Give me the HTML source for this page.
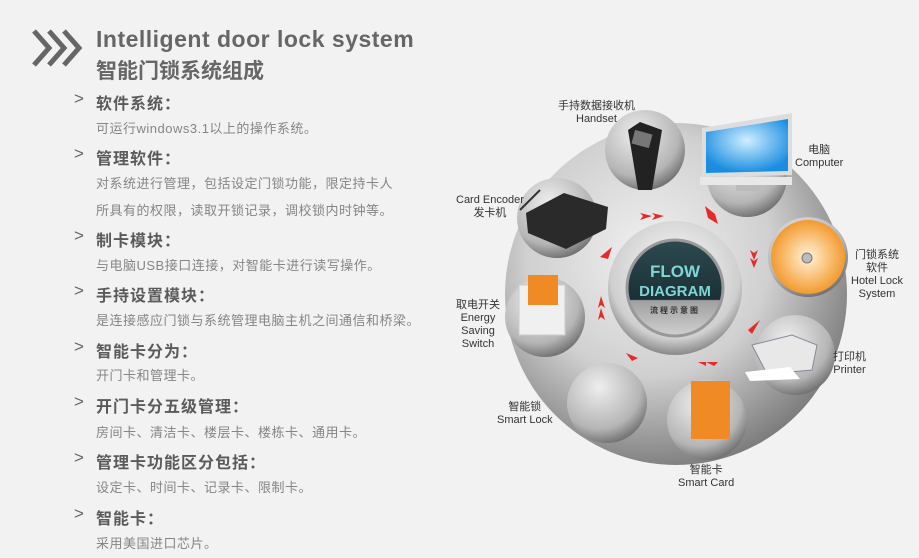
<!DOCTYPE html>
<html><head><meta charset="utf-8"><style>
body{margin:0;width:919px;height:558px;background:#f2f2f2;overflow:hidden;position:relative;font-family:"Liberation Sans","Noto Sans CJK SC",sans-serif}
.t{position:absolute;white-space:nowrap}
.h{font-size:16px;font-weight:bold;color:#5a5a5a;left:96px;letter-spacing:1px}
.d{font-size:13px;color:#858585;left:96px;letter-spacing:0.5px}
.c{position:absolute;left:74px;font-size:17px;color:#666;}
.l{position:absolute;font-size:11px;color:#333;text-align:center;line-height:13px;white-space:nowrap}
</style></head><body>
<svg style="position:absolute;left:0;top:0" width="919" height="558">
<defs>
<radialGradient id="bg" cx="42%" cy="38%" r="65%"><stop offset="0" stop-color="#f0f0f0"/><stop offset="0.55" stop-color="#d0d0d0"/><stop offset="1" stop-color="#7a7a7a"/></radialGradient>
<radialGradient id="sk" cx="40%" cy="30%" r="75%"><stop offset="0" stop-color="#eeeeee"/><stop offset="0.7" stop-color="#b5b5b5"/><stop offset="1" stop-color="#666"/></radialGradient>
<radialGradient id="ring" cx="50%" cy="40%" r="60%"><stop offset="0" stop-color="#fff"/><stop offset="0.8" stop-color="#cfcfcf"/><stop offset="1" stop-color="#888"/></radialGradient>
<linearGradient id="dk" x1="0" y1="0" x2="0" y2="1"><stop offset="0" stop-color="#2c4a50"/><stop offset="0.62" stop-color="#1b3036"/><stop offset="0.63" stop-color="#a0a0a0"/><stop offset="1" stop-color="#d0d0d0"/></linearGradient>
<radialGradient id="scr" cx="50%" cy="40%" r="60%"><stop offset="0" stop-color="#cfefff"/><stop offset="1" stop-color="#1a8de0"/></radialGradient>
<radialGradient id="cd" cx="50%" cy="50%" r="50%"><stop offset="0" stop-color="#fff"/><stop offset="0.15" stop-color="#ffe6c0"/><stop offset="1" stop-color="#f39a2e"/></radialGradient>
</defs>
<g fill="none" stroke="#666" stroke-width="5"><path d="M34 31l15 17-15 17"/><path d="M49 31l15 17-15 17"/><path d="M64 31l15 17-15 17"/></g>
<circle cx="676" cy="294" r="171" fill="url(#bg)"/>
<circle cx="645" cy="150" r="40" fill="url(#sk)"/>
<circle cx="747" cy="177" r="40" fill="url(#sk)"/>
<circle cx="808" cy="257" r="40" fill="url(#sk)"/>
<circle cx="795" cy="355" r="40" fill="url(#sk)"/>
<circle cx="707" cy="420" r="40" fill="url(#sk)"/>
<circle cx="607" cy="403" r="40" fill="url(#sk)"/>
<circle cx="545" cy="317" r="40" fill="url(#sk)"/>
<circle cx="557" cy="218" r="40" fill="url(#sk)"/>
<path d="M628 130l12-8 22 8-10 60-14 0z" fill="#222"/><rect x="633" y="132" width="18" height="14" fill="#777" transform="rotate(15 642 139)"/>
<path d="M702 128l90-15 0 62-90 2z" fill="#ddd"/><path d="M706 132l82-13 0 52-82 2z" fill="url(#scr)"/><rect x="700" y="177" width="92" height="8" fill="#e8e8e8"/><rect x="736" y="185" width="26" height="6" fill="#bbb"/>
<path d="M526 213l38-20 44 14-2 22-40 20-38-16z" fill="#2a2a2a"/><path d="M540 190l-20 20" stroke="#333" stroke-width="2"/>
<circle cx="808" cy="257" r="37" fill="url(#cd)"/><circle cx="807" cy="258" r="5" fill="#bbb" stroke="#777"/>
<path d="M752 345l40-10 25 10-5 25-45 4z" fill="#e8e8e8" stroke="#889" /><path d="M745 372l45-5 10 12-50 2z" fill="#fff"/>
<rect x="691" y="381" width="39" height="58" fill="#f08a24"/>
<rect x="519" y="285" width="46" height="50" fill="#f0f0f0" stroke="#ccc"/><rect x="528" y="275" width="30" height="30" fill="#f08a24"/>
<circle cx="675" cy="288" r="67" fill="url(#ring)"/>
<circle cx="675" cy="288" r="48" fill="url(#dk)" stroke="#999" stroke-width="3"/>
<text x="675" y="277" text-anchor="middle" font-family="Liberation Sans" font-weight="bold" font-size="17" fill="#7fd6d6">FLOW</text>
<text x="675" y="296" text-anchor="middle" font-family="Liberation Sans" font-weight="bold" font-size="15" fill="#7fd6d6">DIAGRAM</text>
<text x="675" y="313" text-anchor="middle" font-family="Noto Sans CJK SC" font-weight="bold" font-size="8" letter-spacing="2" fill="#333">流程示意图</text>
<g fill="#e52a2a">
<path d="M640 213l12 3-12 4 3-4z"/><path d="M652 213l12 3-12 4 3-4z"/>
<path d="M705 206l10 8 3 10-10-6z"/>
<path d="M750 250l4 10 4-10-4 3z"/><path d="M750 258l4 10 4-10-4 3z"/>
<path d="M760 320l-12 10 4 4z"/>
<path d="M718 362l-12 0 8 4zM706 362l-8 0 8 4z"/>
<path d="M638 358l-12-5 6 8z"/>
<path d="M598 308l3-12 4 12-4-3zM598 320l3-12 4 12-4-3z"/>
<path d="M600 257l12-10-4 12z"/>
</g>
</svg>
<div class="t" style="left:96px;top:26px;font-size:23px;font-weight:bold;color:#666;letter-spacing:0.5px">Intelligent door lock system</div>
<div class="t" style="left:96px;top:55px;font-size:21px;font-weight:bold;color:#666">智能门锁系统组成</div>
<div class="c" style="top:89px">&gt;</div><div class="t h" style="top:90px">软件系统：</div>
<div class="t d" style="top:118px">可运行windows3.1以上的操作系统。</div>
<div class="c" style="top:144px">&gt;</div><div class="t h" style="top:145px">管理软件：</div>
<div class="t d" style="top:173px">对系统进行管理，包括设定门锁功能，限定持卡人</div>
<div class="t d" style="top:200px">所具有的权限，读取开锁记录，调校锁内时钟等。</div>
<div class="c" style="top:226px">&gt;</div><div class="t h" style="top:227px">制卡模块：</div>
<div class="t d" style="top:255px">与电脑USB接口连接，对智能卡进行读写操作。</div>
<div class="c" style="top:281px">&gt;</div><div class="t h" style="top:282px">手持设置模块：</div>
<div class="t d" style="top:310px">是连接感应门锁与系统管理电脑主机之间通信和桥梁。</div>
<div class="c" style="top:337px">&gt;</div><div class="t h" style="top:338px">智能卡分为：</div>
<div class="t d" style="top:365px">开门卡和管理卡。</div>
<div class="c" style="top:392px">&gt;</div><div class="t h" style="top:393px">开门卡分五级管理：</div>
<div class="t d" style="top:422px">房间卡、清洁卡、楼层卡、楼栋卡、通用卡。</div>
<div class="c" style="top:448px">&gt;</div><div class="t h" style="top:449px">管理卡功能区分包括：</div>
<div class="t d" style="top:477px">设定卡、时间卡、记录卡、限制卡。</div>
<div class="c" style="top:504px">&gt;</div><div class="t h" style="top:505px">智能卡：</div>
<div class="t d" style="top:533px">采用美国进口芯片。</div>
<div class="l" style="left:558px;top:100px">手持数据接收机<br>Handset</div>
<div class="l" style="left:795px;top:144px">电脑<br>Computer</div>
<div class="l" style="left:456px;top:194px">Card Encoder<br>发卡机</div>
<div class="l" style="left:851px;top:249px">门锁系统<br>软件<br>Hotel Lock<br>System</div>
<div class="l" style="left:456px;top:299px">取电开关<br>Energy<br>Saving<br>Switch</div>
<div class="l" style="left:833px;top:351px">打印机<br>Printer</div>
<div class="l" style="left:497px;top:401px">智能锁<br>Smart Lock</div>
<div class="l" style="left:678px;top:464px">智能卡<br>Smart Card</div>
</body></html>
